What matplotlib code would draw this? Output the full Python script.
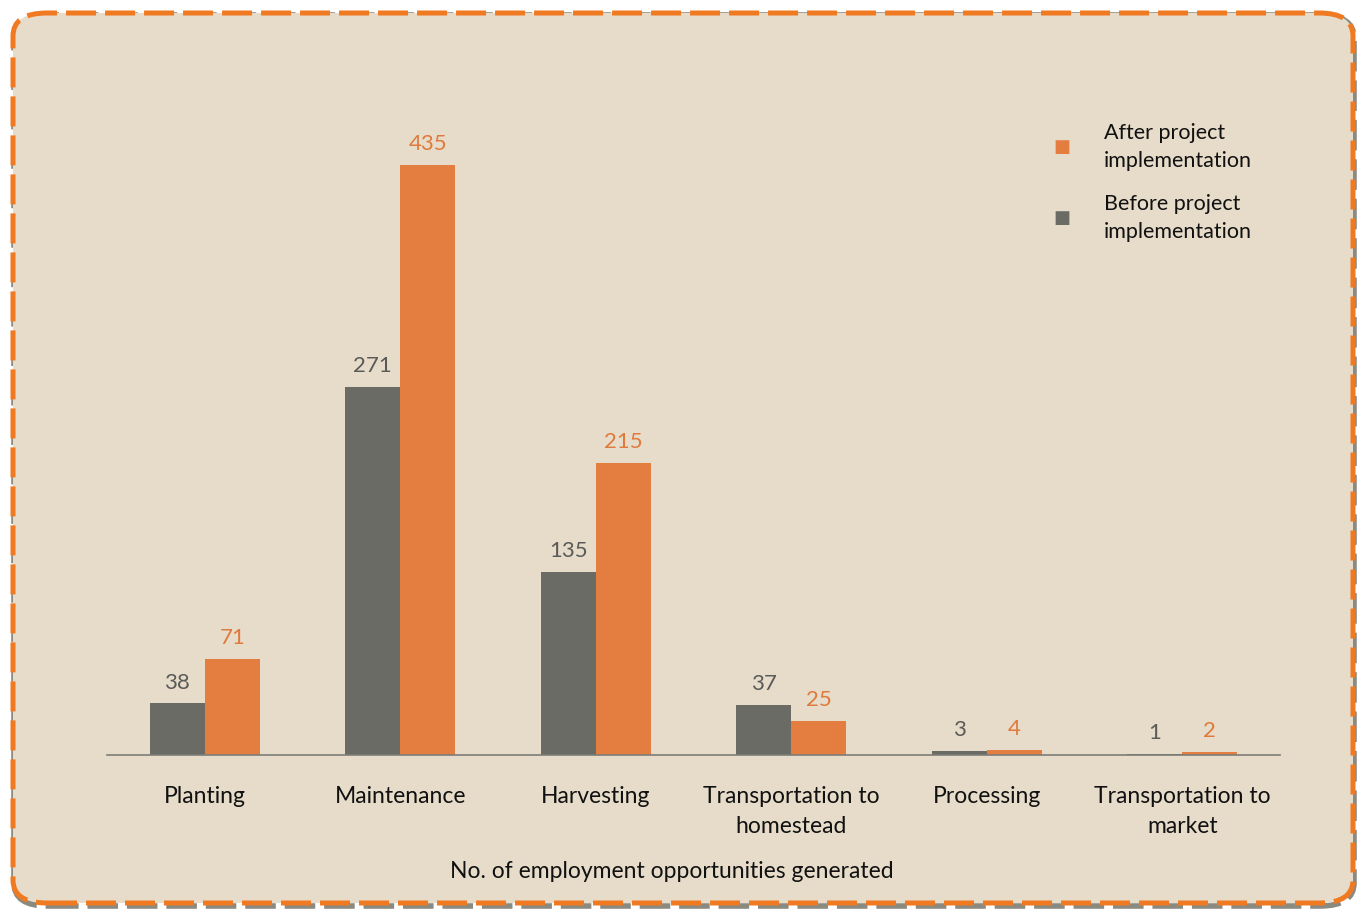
import matplotlib.pyplot as plt
from matplotlib.patches import FancyBboxPatch
import numpy as np

categories = ["Planting", "Maintenance", "Harvesting", "Transportation to\nhomestead",
              "Processing", "Transportation to\nmarket"]
before = [38, 271, 135, 37, 3, 1]
after = [71, 435, 215, 25, 4, 2]
series_names = ["After project\nimplementation", "Before project\nimplementation"]
x_title = "No. of employment opportunities generated"

gray = "#6b6b66"
orange = "#e47d40"
gray_txt = "#5a5a58"
orange_txt = "#e07a3c"
paper = "#e6dcc9"

plt.rcParams['font.family'] = ['Lato', 'DejaVu Sans']

fig = plt.figure(figsize=(13.61, 9.18), dpi=100)
fig.patch.set_facecolor("white")

W, H = 1361, 918
# parchment card with dashed orange border and grey shadow
shadow = FancyBboxPatch((14 / W, 12 / H), 1340 / W, 891 / H,
                        boxstyle="round,pad=0,rounding_size=0.025",
                        transform=fig.transFigure, facecolor="none",
                        edgecolor="#8a8a80", linewidth=4, linestyle=(0, (5.5, 1.6)),
                        zorder=0)
card = FancyBboxPatch((13 / W, 15 / H), 1340 / W, 890 / H,
                      boxstyle="round,pad=0,rounding_size=0.025",
                      transform=fig.transFigure, facecolor=paper,
                      edgecolor="#f07a22", linewidth=3.6, linestyle=(0, (6, 1.8)),
                      zorder=0.5)
fig.patches.extend([shadow, card])

ax = fig.add_axes([107 / W, 1 - 755 / H, 1173 / W, 635 / H])
ax.set_facecolor("none")
ax.set_zorder(2)

x = np.arange(len(categories))
w = 0.282
bars_b = ax.bar(x - w / 2, before, w, color=gray, zorder=2)
bars_a = ax.bar(x + w / 2, after, w, color=orange, zorder=2)

for rect, v in zip(bars_b, before):
    ax.text(rect.get_x() + rect.get_width() / 2, v + 8, str(v), ha="center", va="bottom",
            fontsize=16, color=gray_txt)
for rect, v in zip(bars_a, after):
    ax.text(rect.get_x() + rect.get_width() / 2, v + 8, str(v), ha="center", va="bottom",
            fontsize=16, color=orange_txt)

ax.set_xlim(-0.5, len(categories) - 0.5)
ax.set_ylim(0, 468)
ax.set_yticks([])
ax.set_xticks(x)
ax.set_xticklabels(categories, fontsize=16.5, color="#111111", linespacing=1.55)
ax.tick_params(axis="x", length=0, pad=22)
for side in ["top", "right", "left"]:
    ax.spines[side].set_visible(False)
ax.spines["bottom"].set_color("#7d7d78")
ax.spines["bottom"].set_linewidth(1.2)

fig.text(672 / W, 1 - 871 / H, x_title, ha="center", va="center", fontsize=16.5,
         color="#111111", zorder=3)

# legend
leg_items = [(series_names[0], orange, 147), (series_names[1], gray, 218)]
for label, col, ly in leg_items:
    fig.text(1062 / W, 1 - ly / H, "\u25A0", ha="center", va="center", fontsize=13,
             color=col, zorder=3)
    fig.text(1104 / W, 1 - ly / H, label, ha="left", va="center", fontsize=15.5,
             color="#111111", linespacing=1.45, zorder=3)

fig.savefig("out.png", dpi=100, facecolor=fig.get_facecolor())
